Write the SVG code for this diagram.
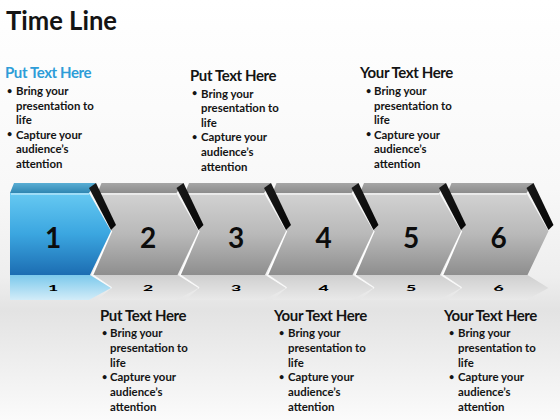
<svg xmlns="http://www.w3.org/2000/svg" width="560" height="420" viewBox="0 0 560 420">
<style>
.t{font-family:Lato,"Open Sans","Liberation Sans",sans-serif;font-weight:bold;fill:#141414}
.title{font-size:26px}
.h{font-size:15px;letter-spacing:-0.4px}
.b{font-size:11.4px}
.bu{font-size:9px}
.num{font-size:28px;text-anchor:middle;fill:#0c0c0c}
.rnum{font-size:16px;text-anchor:middle;fill:#000000;font-weight:900}
.gtop{fill:url(#gTop)}
.gface{fill:url(#gFace)}
.btop{fill:url(#bTop)}
.bface{fill:url(#bFace)}
.side{fill:url(#gSide)}
.hl{stroke:#ffffff;stroke-width:1.6;fill:none}
.rg{fill:url(#rGray)}
.rb{fill:url(#rBlue)}
</style>
<defs>
<linearGradient id="bg" x1="0" y1="0" x2="0" y2="1">
<stop offset="0" stop-color="#ffffff"/>
<stop offset="0.45" stop-color="#f8f8f8"/>
<stop offset="0.66" stop-color="#eeeeee"/>
<stop offset="0.74" stop-color="#e3e3e3"/>
<stop offset="1" stop-color="#fbfbfb"/>
</linearGradient>
<linearGradient id="gTop" x1="0" y1="0" x2="0" y2="1">
<stop offset="0" stop-color="#a6a6a6"/>
<stop offset="1" stop-color="#8c8c8c"/>
</linearGradient>
<linearGradient id="gFace" x1="0" y1="0" x2="0" y2="1">
<stop offset="0" stop-color="#d2d2d2"/>
<stop offset="0.5" stop-color="#b9b9b9"/>
<stop offset="1" stop-color="#8e8e8e"/>
</linearGradient>
<linearGradient id="bTop" x1="0" y1="0" x2="0" y2="1">
<stop offset="0" stop-color="#5aaed4"/>
<stop offset="1" stop-color="#2f86b2"/>
</linearGradient>
<linearGradient id="bFace" x1="0" y1="0" x2="0" y2="1">
<stop offset="0" stop-color="#66c9f2"/>
<stop offset="0.5" stop-color="#3ba6e0"/>
<stop offset="1" stop-color="#1c6db2"/>
</linearGradient>
<linearGradient id="gSide" x1="0" y1="0" x2="1" y2="1">
<stop offset="0" stop-color="#1a1a1a"/>
<stop offset="1" stop-color="#050505"/>
</linearGradient>
<linearGradient id="rGray" x1="0" y1="0" x2="0" y2="1">
<stop offset="0" stop-color="#cfcfcf"/>
<stop offset="1" stop-color="#e9e9e9"/>
</linearGradient>
<linearGradient id="rBlue" x1="0" y1="0" x2="0" y2="1">
<stop offset="0" stop-color="#7cc9ec"/>
<stop offset="1" stop-color="#d2ecf8"/>
</linearGradient>
<polygon id="top" points="4,183 86,183 79,193 0,193"/>
<polygon id="side" points="79,188 86,183 106,225 101,230"/>
<polygon id="face" points="0,193 79,193 101,231 80,275 -5,275 14,231"/>
<polygon id="face1" points="0,193 79,193 101,231 80,275 0,275"/>
<polygon id="rface" points="0,300 79,300 101,288 80,275 -5,275 14,288"/>
<polygon id="rface1" points="0,300 79,300 101,288 80,275 0,275"/>
</defs>

<rect x="0" y="0" width="560" height="420" fill="url(#bg)"/>

<text class="t title" x="6" y="30" textLength="111" lengthAdjust="spacingAndGlyphs">Time Line</text>

<g id="reflections">
<g transform="translate(447.5,0)"><use href="#rface" class="rg"/><line class="hl" x1="14" y1="288" x2="-5" y2="275" stroke-opacity="0.8"/><text class="t rnum" transform="translate(51,291) scale(1.1,0.42)">6</text></g>
<g transform="translate(360,0)"><use href="#rface" class="rg"/><line class="hl" x1="14" y1="288" x2="-5" y2="275" stroke-opacity="0.8"/><text class="t rnum" transform="translate(51,291) scale(1.1,0.42)">5</text></g>
<g transform="translate(272.5,0)"><use href="#rface" class="rg"/><line class="hl" x1="14" y1="288" x2="-5" y2="275" stroke-opacity="0.8"/><text class="t rnum" transform="translate(51,291) scale(1.1,0.42)">4</text></g>
<g transform="translate(185,0)"><use href="#rface" class="rg"/><line class="hl" x1="14" y1="288" x2="-5" y2="275" stroke-opacity="0.8"/><text class="t rnum" transform="translate(51,291) scale(1.1,0.42)">3</text></g>
<g transform="translate(97.5,0)"><use href="#rface" class="rg"/><line class="hl" x1="14" y1="288" x2="-5" y2="275" stroke-opacity="0.8"/><text class="t rnum" transform="translate(50.5,291) scale(1.1,0.42)">2</text></g>
<g transform="translate(10,0)"><use href="#rface1" class="rb"/><text class="t rnum" transform="translate(43,291) scale(1.1,0.42)">1</text></g>
</g>

<g id="node6" transform="translate(447.5,0)">
<use href="#face" class="gface"/><use href="#top" class="gtop"/>
<line class="hl" x1="1" y1="194" x2="79" y2="194" stroke-opacity="0.7"/>
<line class="hl" x1="14" y1="231" x2="-5" y2="275"/>
<use href="#side" class="side"/>
<text class="t num" x="51" y="248">6</text>
</g>
<g id="node5" transform="translate(360,0)">
<use href="#face" class="gface"/><use href="#top" class="gtop"/>
<line class="hl" x1="1" y1="194" x2="79" y2="194" stroke-opacity="0.7"/>
<line class="hl" x1="14" y1="231" x2="-5" y2="275"/>
<use href="#side" class="side"/>
<text class="t num" x="51" y="248">5</text>
</g>
<g id="node4" transform="translate(272.5,0)">
<use href="#face" class="gface"/><use href="#top" class="gtop"/>
<line class="hl" x1="1" y1="194" x2="79" y2="194" stroke-opacity="0.7"/>
<line class="hl" x1="14" y1="231" x2="-5" y2="275"/>
<use href="#side" class="side"/>
<text class="t num" x="51" y="248">4</text>
</g>
<g id="node3" transform="translate(185,0)">
<use href="#face" class="gface"/><use href="#top" class="gtop"/>
<line class="hl" x1="1" y1="194" x2="79" y2="194" stroke-opacity="0.7"/>
<line class="hl" x1="14" y1="231" x2="-5" y2="275"/>
<use href="#side" class="side"/>
<text class="t num" x="51" y="248">3</text>
</g>
<g id="node2" transform="translate(97.5,0)">
<use href="#face" class="gface"/><use href="#top" class="gtop"/>
<line class="hl" x1="1" y1="194" x2="79" y2="194" stroke-opacity="0.7"/>
<line class="hl" x1="14" y1="231" x2="-5" y2="275"/>
<use href="#side" class="side"/>
<text class="t num" x="50.5" y="248">2</text>
</g>
<g id="node1" transform="translate(10,0)">
<use href="#face1" class="bface"/><use href="#top" class="btop"/>
<line class="hl" x1="1" y1="194" x2="79" y2="194" stroke-opacity="0.5"/>
<use href="#side" class="side"/>
<text class="t num" x="43" y="248">1</text>
</g>

<g id="text1">
<text class="t h" x="5" y="78" style="fill:#2e9dd8">Put Text Here</text>
<text class="t bu" x="7" y="93.5">•</text><text class="t b" x="16" y="95">Bring your</text>
<text class="t b" x="16" y="109.6">presentation to</text>
<text class="t b" x="16" y="124.2">life</text>
<text class="t bu" x="7" y="137.3">•</text><text class="t b" x="16" y="138.8">Capture your</text>
<text class="t b" x="16" y="153.4">audience’s</text>
<text class="t b" x="16" y="168">attention</text>
</g>
<g id="text2">
<text class="t h" x="190" y="80.5">Put Text Here</text>
<text class="t bu" x="192" y="96">•</text><text class="t b" x="201" y="97.5">Bring your</text>
<text class="t b" x="201" y="112.1">presentation to</text>
<text class="t b" x="201" y="126.7">life</text>
<text class="t bu" x="192" y="139.8">•</text><text class="t b" x="201" y="141.3">Capture your</text>
<text class="t b" x="201" y="155.9">audience’s</text>
<text class="t b" x="201" y="170.5">attention</text>
</g>
<g id="text3">
<text class="t h" x="360" y="78">Your Text Here</text>
<text class="t bu" x="366" y="93.5">•</text><text class="t b" x="374" y="95">Bring your</text>
<text class="t b" x="374" y="109.6">presentation to</text>
<text class="t b" x="374" y="124.2">life</text>
<text class="t bu" x="366" y="137.3">•</text><text class="t b" x="374" y="138.8">Capture your</text>
<text class="t b" x="374" y="153.4">audience’s</text>
<text class="t b" x="374" y="168">attention</text>
</g>
<g id="text4">
<text class="t h" x="100" y="320.5">Put Text Here</text>
<text class="t bu" x="102" y="335.5">•</text><text class="t b" x="110" y="337">Bring your</text>
<text class="t b" x="110" y="351.8">presentation to</text>
<text class="t b" x="110" y="366.6">life</text>
<text class="t bu" x="102" y="379.9">•</text><text class="t b" x="110" y="381.4">Capture your</text>
<text class="t b" x="110" y="396.2">audience’s</text>
<text class="t b" x="110" y="411">attention</text>
</g>
<g id="text5">
<text class="t h" x="274" y="320.5">Your Text Here</text>
<text class="t bu" x="279" y="335.5">•</text><text class="t b" x="288" y="337">Bring your</text>
<text class="t b" x="288" y="351.8">presentation to</text>
<text class="t b" x="288" y="366.6">life</text>
<text class="t bu" x="279" y="379.9">•</text><text class="t b" x="288" y="381.4">Capture your</text>
<text class="t b" x="288" y="396.2">audience’s</text>
<text class="t b" x="288" y="411">attention</text>
</g>
<g id="text6">
<text class="t h" x="444" y="320.5">Your Text Here</text>
<text class="t bu" x="449" y="335.5">•</text><text class="t b" x="458" y="337">Bring your</text>
<text class="t b" x="458" y="351.8">presentation to</text>
<text class="t b" x="458" y="366.6">life</text>
<text class="t bu" x="449" y="379.9">•</text><text class="t b" x="458" y="381.4">Capture your</text>
<text class="t b" x="458" y="396.2">audience’s</text>
<text class="t b" x="458" y="411">attention</text>
</g>
</svg>
